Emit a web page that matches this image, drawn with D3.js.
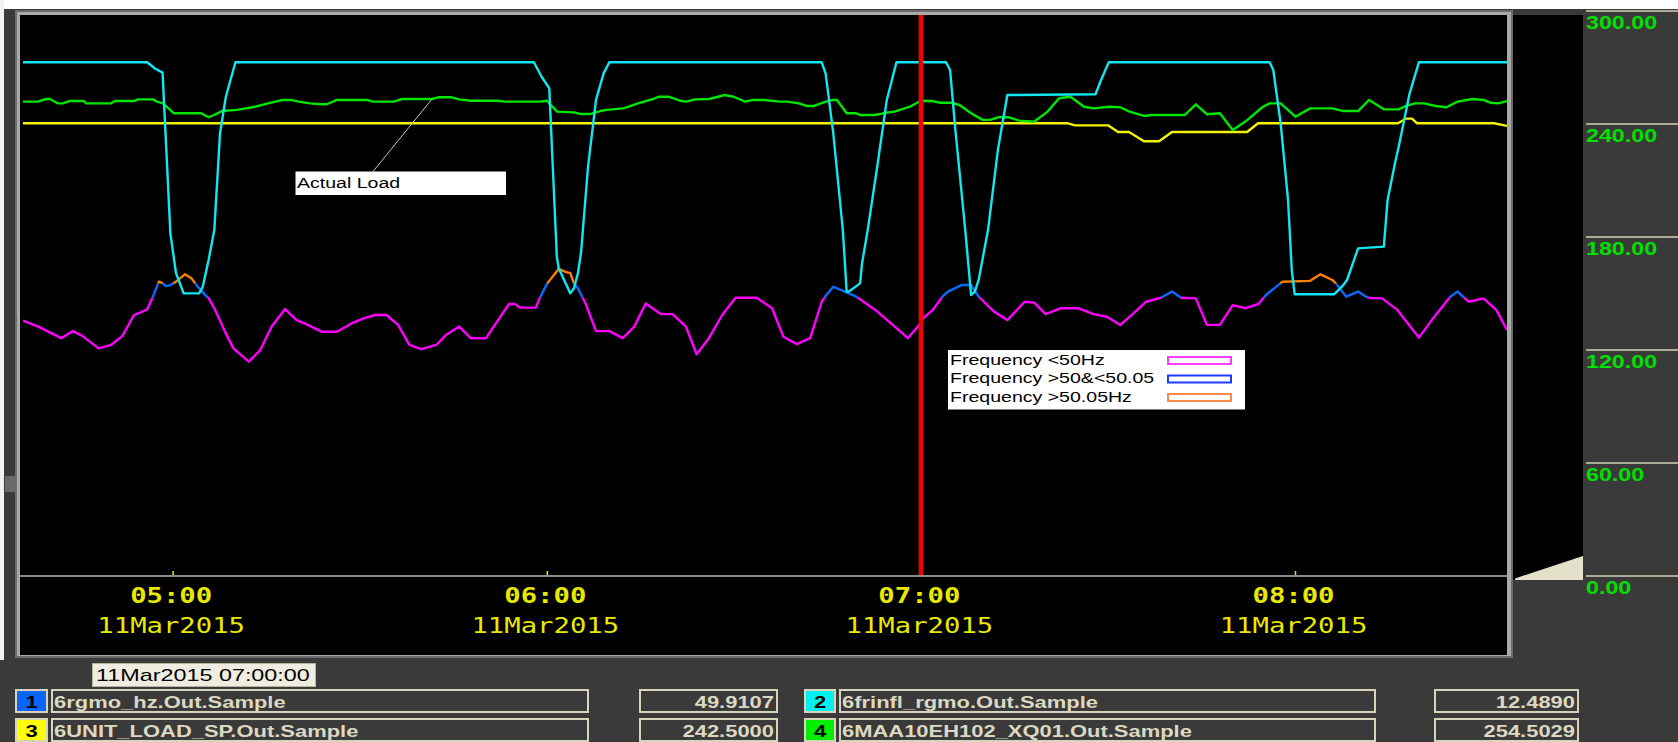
<!DOCTYPE html>
<html>
<head>
<meta charset="utf-8">
<script src="https://cdn.jsdelivr.net/npm/d3@7"></script>
<style>
  html, body { margin: 0; padding: 0; background: #3a3a3a; overflow: hidden; }
  svg { display: block; }
</style>
</head>
<body>
<svg id="chart" width="1678" height="742"></svg>
<script>
// ---- Trend data: 11 Mar 2015, unit 6 ----
const DAY = "2015-03-11";
const windowStart = "04:36:00";
const windowEnd = "08:34:00";
const cursorTime = "07:00:00";
const hourTicks = ["05:00:00", "06:00:00", "07:00:00", "08:00:00"];
const loadTicks = [0, 60, 120, 180, 240, 300];

// pen 1: grid frequency (Hz)
const freqSamples = [
  ["04:36:00",49.918],["04:38:27",49.897],["04:42:08",49.856],["04:43:58",49.881],["04:45:31",49.864],
  ["04:48:08",49.820],["04:50:07",49.832],["04:51:57",49.864],["04:53:48",49.938],["04:54:43",49.946],
  ["04:55:56",49.958],["04:56:51",50.003],["04:57:47",50.056],["04:58:18",50.052],["04:58:56",50.040],
  ["04:59:38",50.044],["05:00:32",50.056],["05:01:57",50.082],["05:03:00",50.068],["05:04:14",50.033],
  ["05:05:28",50.003],["05:05:46",49.998],["05:06:41",49.962],["05:08:32",49.873],["05:09:45",49.820],
  ["05:12:13",49.773],["05:14:03",49.814],["05:15:53",49.897],["05:18:02",49.959],["05:19:53",49.920],
  ["05:21:25",49.906],["05:23:53",49.879],["05:26:20",49.879],["05:28:47",49.909],["05:30:38",49.926],
  ["05:32:27",49.938],["05:34:18",49.938],["05:36:09",49.903],["05:37:59",49.832],["05:39:50",49.817],
  ["05:42:17",49.832],["05:43:49",49.867],["05:45:58",49.897],["05:47:48",49.856],["05:50:15",49.856],
  ["05:53:57",49.977],["05:54:52",49.977],["05:55:47",49.964],["05:58:15",49.964],["05:58:51",49.997],
  ["06:00:05",50.050],["06:01:55",50.101],["06:02:59",50.091],["06:03:46",50.086],["06:04:22",50.050],
  ["06:05:00",50.033],["06:06:13",49.979],["06:07:54",49.881],["06:10:02",49.881],["06:12:11",49.856],
  ["06:14:02",49.897],["06:15:52",49.979],["06:18:20",49.941],["06:20:10",49.941],["06:22:19",49.897],
  ["06:24:02",49.799],["06:26:00",49.856],["06:28:08",49.938],["06:30:17",49.999],["06:33:40",49.999],
  ["06:36:08",49.962],["06:37:57",49.861],["06:40:06",49.835],["06:42:15",49.856],["06:44:06",49.985],
  ["06:44:43",50.005],["06:45:57",50.038],["06:47:47",50.021],["06:49:38",50.003],["06:52:42",49.956],
  ["06:55:09",49.909],["06:57:55",49.856],["07:00:00",49.9107],["07:00:22",49.926],["07:01:54",49.956],
  ["07:03:27",50.003],["07:04:21",50.021],["07:06:30",50.044],["07:08:03",50.044],["07:09:16",50.003],
  ["07:11:44",49.950],["07:13:52",49.920],["07:16:38",49.985],["07:18:10",49.982],["07:20:01",49.941],
  ["07:22:28",49.962],["07:25:13",49.962],["07:27:41",49.941],["07:29:50",49.932],["07:31:59",49.903],
  ["07:34:06",49.944],["07:36:08",49.985],["07:38:29",49.999],["07:40:16",50.021],["07:41:45",49.999],
  ["07:44:06",49.997],["07:45:53",49.903],["07:47:57",49.903],["07:50:01",49.973],["07:52:05",49.962],
  ["07:54:09",49.977],["07:55:21",50.009],["07:58:00",50.056],["08:02:26",50.059],["08:04:05",50.082],
  ["08:05:59",50.062],["08:06:34",50.050],["08:08:13",50.003],["08:10:07",50.021],["08:11:24",50.003],
  ["08:12:02",49.998],["08:13:58",49.997],["08:16:19",49.958],["08:19:52",49.858],["08:21:56",49.920],
  ["08:24:54",50.003],["08:26:04",50.021],["08:27:51",49.985],["08:30:13",49.997],["08:32:17",49.956],
  ["08:34:00",49.885]
];

// pen 2: frequency influence on RGMO
const rgmoSamples = [
  ["04:36:00",12.489],["04:55:56",12.489],["04:57:10",12.16],["04:58:23",11.94],["04:59:38",3.42],
  ["05:00:32",1.30],["05:01:46",0.22],["05:04:14",0.22],["05:04:50",0.57],["05:05:46",1.99],
  ["05:06:41",3.58],["05:07:36",8.73],["05:08:32",10.66],["05:10:04",12.489],["05:57:56",12.489],
  ["05:59:10",11.72],["06:00:24",11.11],["06:01:37",2.17],["06:01:55",1.55],["06:03:46",0.22],
  ["06:04:22",0.49],["06:05:00",1.30],["06:05:30",2.40],["06:06:37",6.94],["06:07:54",10.49],
  ["06:09:07",11.90],["06:10:02",12.489],["06:44:06",12.489],["06:44:43",11.90],["06:45:57",8.73],
  ["06:47:29",3.58],["06:48:06",0.31],["06:48:24",0.31],["06:50:15",0.75],["06:50:34",1.82],
  ["06:51:28",3.58],["06:53:00",6.94],["06:54:32",10.49],["06:56:05",12.489],["07:04:02",12.489],
  ["07:04:41",12.08],["07:05:35",8.73],["07:07:07",3.58],["07:08:03",0.13],["07:08:39",0.31],
  ["07:09:16",0.93],["07:10:46",3.58],["07:12:21",7.83],["07:13:52",10.75],["07:28:00",10.79],
  ["07:28:54",11.55],["07:30:08",12.489],["07:55:56",12.489],["07:56:31",12.08],["07:57:42",9.25],
  ["07:58:53",5.18],["07:59:29",1.46],["07:59:57",0.17],["08:06:16",0.17],["08:07:45",0.66],
  ["08:08:21",0.93],["08:10:07",2.61],["08:14:15",2.70],["08:14:51",5.18],["08:16:02",7.13],
  ["08:16:38",8.01],["08:18:23",10.84],["08:19:52",12.489],["08:34:00",12.489]
];

// pen 3: unit load set point (MW)
const setpointSamples = [
  ["04:36:00",242.5],["07:23:36",242.5],["07:24:43",241.4],["07:30:01",241.4],["07:31:37",237.9],
  ["07:33:23",237.9],["07:35:47",233.0],["07:38:12",233.0],["07:40:17",237.9],["07:52:19",237.9],
  ["07:54:04",242.5],["08:16:32",242.5],["08:17:49",245.0],["08:18:46",245.0],["08:19:35",242.5],
  ["08:31:56",242.5],["08:34:00",241.1]
];

// pen 4: actual generator load (MW)
const loadSamples = [
  ["04:36:00",254.0],["04:38:24",254.0],["04:39:41",255.4],["04:40:20",255.4],["04:41:31",253.1],
  ["04:42:25",253.1],["04:43:23",254.3],["04:45:47",254.3],["04:46:06",253.1],["04:50:07",253.1],
  ["04:50:45",254.3],["04:53:48",254.3],["04:54:27",255.2],["04:56:51",255.2],["04:57:29",254.0],
  ["04:58:27",253.1],["05:00:13",247.8],["05:04:33",247.8],["05:05:46",245.7],["05:06:38",246.9],
  ["05:07:55",249.0],["05:10:19",249.6],["05:12:49",251.0],["05:15:18",253.1],["05:17:42",254.9],
  ["05:18:59",254.9],["05:20:11",254.0],["05:22:02",253.1],["05:23:53",252.6],["05:24:45",252.6],
  ["05:26:22",254.9],["05:31:10",254.9],["05:32:08",254.0],["05:35:30",254.0],["05:36:47",255.4],
  ["05:41:36",255.4],["05:42:34",256.3],["05:44:44",256.3],["05:45:56",255.2],["05:47:51",254.5],
  ["05:52:06",254.5],["05:53:18",254.0],["05:58:51",254.0],["06:00:03",254.5],["06:01:39",248.7],
  ["06:04:22",248.3],["06:05:30",247.4],["06:06:56",247.4],["06:08:33",249.0],["06:09:40",249.6],
  ["06:12:11",250.4],["06:12:48",251.0],["06:14:38",253.1],["06:17:03",255.4],["06:18:00",256.6],
  ["06:19:33",256.6],["06:21:22",254.5],["06:22:20",254.0],["06:23:47",255.2],["06:26:01",255.4],
  ["06:27:28",256.6],["06:28:26",257.5],["06:29:59",256.6],["06:31:48",254.0],["06:33:05",254.9],
  ["06:34:51",254.9],["06:37:21",254.0],["06:38:32",254.0],["06:40:26",253.1],["06:41:39",251.7],
  ["06:42:52",251.7],["06:44:43",254.0],["06:45:55",254.9],["06:46:33",254.9],["06:48:06",247.8],
  ["06:49:36",247.8],["06:50:15",246.9],["06:52:39",246.9],["06:53:56",247.8],["06:55:46",248.7],
  ["06:58:13",251.3],["07:00:00",254.5029],["07:01:54",254.3],["07:03:04",253.4],["07:05:00",253.4],
  ["07:06:12",252.2],["07:08:03",247.8],["07:09:53",244.3],["07:11:06",244.3],["07:12:21",245.7],
  ["07:14:08",245.7],["07:15:43",243.9],["07:18:09",243.3],["07:20:19",248.7],["07:22:10",255.8],
  ["07:24:00",256.6],["07:26:10",251.3],["07:27:41",250.4],["07:30:08",251.3],["07:31:57",251.0],
  ["07:33:28",248.7],["07:35:47",246.4],["07:37:01",246.9],["07:42:20",246.9],["07:44:06",252.6],
  ["07:45:53",247.3],["07:47:57",247.8],["07:50:01",238.9],["07:52:23",244.3],["07:54:45",251.0],
  ["07:55:56",253.1],["07:57:42",253.1],["08:00:04",246.0],["08:02:25",250.4],["08:05:59",250.4],
  ["08:07:45",249.0],["08:10:07",249.0],["08:11:53",254.9],["08:14:15",249.9],["08:16:38",249.9],
  ["08:17:49",251.7],["08:19:15",253.1],["08:20:42",253.1],["08:22:32",251.7],["08:24:18",251.0],
  ["08:26:04",254.0],["08:28:27",255.4],["08:30:13",254.9],["08:31:24",253.4],["08:32:34",253.1],
  ["08:34:00",254.3]
];

// frequency band colouring
const freqThresholds = [50, 50.05];
const freqBandLabels = ["Frequency <50Hz", "Frequency >50&<50.05", "Frequency >50.05Hz"];
const freqBandColors = ["#ff00ff", "#0a6cff", "#ff8000"];
const freqSwatchColors = ["#ff3cff", "#1e3cff", "#ff8a4a"];

// pen table shown under the trend
const penIds = [1, 2, 3, 4];
const penTags = ["6rgmo_hz.Out.Sample", "6frinfl_rgmo.Out.Sample", "6UNIT_LOAD_SP.Out.Sample", "6MAA10EH102_XQ01.Out.Sample"];
const penCursorValues = [49.9107, 12.4890, 242.5000, 254.5029];
const penColors = ["#0a64ff", "#00f0f0", "#ffff00", "#00ee00"];

const annotationText = "Actual Load";
const annotationTime = "05:41:36";

// ---- helpers ----
const SX = 1.33;  // horizontal stretch of the HMI font
const SANS = "'Liberation Sans', Arial, sans-serif";
const MONO = "'DejaVu Sans Mono', monospace";
const parseTime = d3.timeParse("%Y-%m-%d %H:%M:%S");
const t = s => parseTime(`${DAY} ${s}`);
const toPoints = arr => arr.map(([time, v]) => ({ t: t(time), v }));

function label(g, x, y, text, o) {
  return g.append("text")
    .attr("transform", `translate(${x},${y}) scale(${o.sx || SX},1)`)
    .attr("text-anchor", o.anchor || "start")
    .attr("font-family", o.family || SANS)
    .attr("font-size", o.size)
    .attr("font-weight", o.weight || "normal")
    .attr("fill", o.fill)
    .text(text);
}

const svg = d3.select("#chart");
const W = 1678, H = 742;

// ---- scales ----
const x = d3.scaleTime().domain([t(windowStart), t(windowEnd)]).range([23, 1507]);
const yLoad = d3.scaleLinear().domain([0, 300]).range([580, 15]);
const yFreq = d3.scaleLinear().domain([49, 51]).range([580, 15]);
const yRgmo = d3.scaleLinear().domain([-15, 15]).range([580, 15]);
const yPanel = d3.scaleLinear().domain([0, 300]).range([576, 11]);

// ---- window chrome ----
svg.append("rect").attr("width", W).attr("height", H).attr("fill", "#3a3a3a");
svg.append("rect").attr("width", W).attr("height", 9).attr("fill", "#ffffff");
svg.append("rect").attr("width", 4).attr("height", 660).attr("fill", "#f2f2f2");
svg.append("rect").attr("x", 5).attr("y", 476).attr("width", 11).attr("height", 16).attr("fill", "#6a6a6a");

// trend frame
svg.append("rect").attr("x", 15).attr("y", 10).attr("width", 1498).attr("height", 648).attr("fill", "#6c6c6c");
svg.append("rect").attr("x", 17).attr("y", 12).attr("width", 1494).attr("height", 644).attr("fill", "#a9a9a9");
svg.append("rect").attr("x", 20).attr("y", 15).attr("width", 1487).attr("height", 640).attr("fill", "#000");
svg.append("rect").attr("x", 1513).attr("y", 15).attr("width", 70).attr("height", 565).attr("fill", "#000");
svg.append("polygon")
  .attr("points", [[1515, 578.5], [1583, 556], [1583, 580], [1515, 580]].map(p => p.join(",")).join(" "))
  .attr("fill", "#e4e1ca");

// scale panel on the right
const panel = svg.append("g");
panel.selectAll("line.grid").data(loadTicks).join("line")
  .attr("class", "grid")
  .attr("x1", 1586).attr("x2", W)
  .attr("y1", d => yPanel(d)).attr("y2", d => yPanel(d))
  .attr("stroke", "#d6d2b8").attr("stroke-width", 1.5);
panel.selectAll("g.lbl").data(loadTicks).join("g").attr("class", "lbl")
  .each(function (d) {
    label(d3.select(this), 1586, yPanel(d) + 17.5, d3.format(".2f")(d),
      { size: 17.5, weight: "bold", fill: "#00e000" });
  });

// ---- time axis ----
const axisY = 576;
svg.append("line").attr("x1", 20).attr("x2", 1507).attr("y1", axisY).attr("y2", axisY)
  .attr("stroke", "#8c8c8c").attr("stroke-width", 2);
const xAxis = d3.axisBottom(x).tickValues(hourTicks.map(t)).tickSizeInner(-4).tickSizeOuter(0);
const gx = svg.append("g").attr("transform", `translate(0,${axisY - 1})`).call(xAxis);
gx.select(".domain").remove();
gx.selectAll(".tick line").attr("stroke", "#e8e800").attr("stroke-width", 1.5);
gx.selectAll(".tick text").remove();
gx.selectAll(".tick").each(function (d) {
  const g = d3.select(this);
  label(g, -2, 28, d3.timeFormat("%H:%M")(d), { family: MONO, size: 20.5, weight: "bold", fill: "#e8e800", anchor: "middle" });
  label(g, -2, 58, d3.timeFormat("%d%b%Y")(d), { family: MONO, size: 20.5, fill: "#e8e800", anchor: "middle" });
});

// ---- pens ----
svg.append("clipPath").attr("id", "plot-clip")
  .append("rect").attr("x", 20).attr("y", 15).attr("width", 1487).attr("height", axisY - 15);
const pens = svg.append("g").attr("clip-path", "url(#plot-clip)")
  .attr("fill", "none").attr("stroke-width", 2.4).attr("stroke-linejoin", "round");

const lineFor = yScale => d3.line().x(d => x(d.t)).y(d => yScale(d.v));

// frequency pen split into colour bands at the thresholds
const bandOf = v => d3.bisectLeft(freqThresholds, v);
function splitByBand(points) {
  const runs = [];
  let run = { band: bandOf(points[0].v), pts: [points[0]] };
  for (let i = 1; i < points.length; i++) {
    const a = points[i - 1], b = points[i];
    const target = bandOf(b.v);
    let band = run.band;
    while (band !== target) {
      const up = target > band;
      const th = freqThresholds[up ? band : band - 1];
      const k = (th - a.v) / (b.v - a.v);
      const p = { t: new Date(+a.t + k * (b.t - a.t)), v: th };
      run.pts.push(p);
      runs.push(run);
      band = up ? band + 1 : band - 1;
      run = { band, pts: [p] };
    }
    run.pts.push(b);
  }
  runs.push(run);
  return runs;
}
pens.append("g").selectAll("path").data(splitByBand(toPoints(freqSamples))).join("path")
  .attr("d", d => lineFor(yFreq)(d.pts))
  .attr("stroke", d => freqBandColors[d.band]);

pens.append("path").attr("d", lineFor(yLoad)(toPoints(setpointSamples))).attr("stroke", "#f4f400");
const loadPoints = toPoints(loadSamples);
pens.append("path").attr("d", lineFor(yLoad)(loadPoints)).attr("stroke", "#00e600");
pens.append("path").attr("d", lineFor(yRgmo)(toPoints(rgmoSamples))).attr("stroke", "#12e6f0");

// cursor
const cx = x(t(cursorTime));
svg.append("line").attr("x1", cx).attr("x2", cx).attr("y1", 15).attr("y2", axisY - 1)
  .attr("stroke", "#f00000").attr("stroke-width", 4.5);

// ---- "Actual Load" callout ----
const annT = t(annotationTime);
const i1 = d3.bisector(d => d.t).left(loadPoints, annT);
const pa = loadPoints[Math.max(0, i1 - 1)], pb = loadPoints[i1];
const annV = pa.v + (pb.v - pa.v) * ((annT - pa.t) / ((pb.t - pa.t) || 1));
svg.append("line").attr("x1", 373).attr("y1", 171.5).attr("x2", x(annT)).attr("y2", yLoad(annV))
  .attr("stroke", "#c8c8c8").attr("stroke-width", 1);
svg.append("rect").attr("x", 295.5).attr("y", 171.5).attr("width", 210.5).attr("height", 23.5).attr("fill", "#ffffff");
label(svg, 297, 188, annotationText, { size: 14.7, fill: "#000" });

// ---- frequency band legend ----
const fl = svg.append("g");
fl.append("rect").attr("x", 948).attr("y", 350).attr("width", 297).attr("height", 59.5).attr("fill", "#ffffff");
freqBandLabels.forEach((txt, i) => {
  const base = 364.5 + i * 18.5;
  label(fl, 950, base, txt, { size: 14.7, fill: "#000" });
  fl.append("rect").attr("x", 1168).attr("y", base - 7.5).attr("width", 63).attr("height", 7)
    .attr("fill", "#ffffff").attr("stroke", freqSwatchColors[i]).attr("stroke-width", 2);
});

// ---- cursor timestamp + pen table ----
svg.append("rect").attr("x", 92.5).attr("y", 663.5).attr("width", 223).attr("height", 23)
  .attr("fill", "#efede0").attr("stroke", "#b8b4a0").attr("stroke-width", 1);
label(svg, 96, 681, d3.timeFormat("%d%b%Y  %H:%M:%S")(t(cursorTime)), { size: 16, sx: 1.46, fill: "#000" });

const cols = [
  { num: [15, 48], tag: [51, 589], val: [639, 778] },
  { num: [804, 836], tag: [839, 1376], val: [1434, 1579] }
];
const rowTops = [689, 718];
const boxStroke = "#d8d4bc";
const table = svg.append("g");
penIds.forEach((id, i) => {
  const c = cols[i % 2], top = rowTops[Math.floor(i / 2)], h = 24, base = top + 19;
  table.append("rect").attr("x", c.num[0] + 1).attr("y", top + 1).attr("width", c.num[1] - c.num[0] - 2).attr("height", h - 2)
    .attr("fill", penColors[i]).attr("stroke", boxStroke).attr("stroke-width", 2);
  label(table, (c.num[0] + c.num[1]) / 2, base, String(id), { size: 16.5, weight: "bold", fill: "#000", anchor: "middle" });
  table.append("rect").attr("x", c.tag[0] + 1).attr("y", top + 1).attr("width", c.tag[1] - c.tag[0] - 2).attr("height", h - 2)
    .attr("fill", "#3a3a3a").attr("stroke", boxStroke).attr("stroke-width", 2);
  label(table, c.tag[0] + 3, base, penTags[i], { size: 16.5, weight: "bold", fill: "#dcd8c2" });
  table.append("rect").attr("x", c.val[0] + 1).attr("y", top + 1).attr("width", c.val[1] - c.val[0] - 2).attr("height", h - 2)
    .attr("fill", "#3a3a3a").attr("stroke", boxStroke).attr("stroke-width", 2);
  label(table, c.val[1] - 4, base, d3.format(".4f")(penCursorValues[i]), { size: 16.5, weight: "bold", fill: "#dcd8c2", anchor: "end" });
});
</script>
</body>
</html>
